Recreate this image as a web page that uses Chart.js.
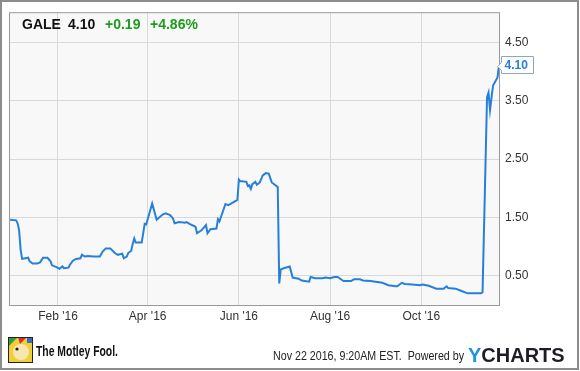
<!DOCTYPE html>
<html>
<head>
<meta charset="utf-8">
<script src="https://cdn.jsdelivr.net/npm/chart.js@4/dist/chart.umd.min.js"></script>
<style>
  html, body { margin: 0; padding: 0; background: #fff; }
  #wrap { width: 580px; height: 371px; }
</style>
</head>
<body>
<div id="wrap"><canvas id="grafico" width="580" height="371"></canvas></div>
<script>
// GALE close prices
const datas = [
  '2015-12-31', '2016-01-04', '2016-01-05', '2016-01-06', '2016-01-07', '2016-01-08', '2016-01-12', '2016-01-13',
  '2016-01-15', '2016-01-18', '2016-01-20', '2016-01-22', '2016-01-25', '2016-01-27', '2016-01-28', '2016-01-31',
  '2016-02-02', '2016-02-04', '2016-02-05', '2016-02-08', '2016-02-09', '2016-02-11', '2016-02-13', '2016-02-16',
  '2016-02-17', '2016-02-19', '2016-02-21', '2016-02-25', '2016-02-29', '2016-03-02', '2016-03-04', '2016-03-07',
  '2016-03-10', '2016-03-12', '2016-03-15', '2016-03-16', '2016-03-18', '2016-03-19', '2016-03-21', '2016-03-22',
  '2016-03-23', '2016-03-24', '2016-03-28', '2016-03-30', '2016-03-31', '2016-04-04', '2016-04-07', '2016-04-11',
  '2016-04-13', '2016-04-16', '2016-04-18', '2016-04-19', '2016-04-22', '2016-04-26', '2016-04-27', '2016-04-29',
  '2016-05-03', '2016-05-04', '2016-05-07', '2016-05-10', '2016-05-11', '2016-05-13', '2016-05-17', '2016-05-18',
  '2016-05-19', '2016-05-23', '2016-05-25', '2016-05-31', '2016-06-01', '2016-06-02', '2016-06-03', '2016-06-06',
  '2016-06-07', '2016-06-08', '2016-06-09', '2016-06-10', '2016-06-12', '2016-06-13', '2016-06-15', '2016-06-17',
  '2016-06-19', '2016-06-21', '2016-06-23', '2016-06-25', '2016-06-27', '2016-06-28', '2016-06-29', '2016-07-01',
  '2016-07-05', '2016-07-07', '2016-07-11', '2016-07-13', '2016-07-18', '2016-07-19', '2016-07-22', '2016-07-27',
  '2016-07-29', '2016-08-01', '2016-08-04', '2016-08-06', '2016-08-10', '2016-08-15', '2016-08-17', '2016-08-21',
  '2016-08-23', '2016-08-28', '2016-09-05', '2016-09-09', '2016-09-14', '2016-09-15', '2016-09-18', '2016-09-20',
  '2016-09-25', '2016-09-30', '2016-10-02', '2016-10-06', '2016-10-11', '2016-10-16', '2016-10-18', '2016-10-19',
  '2016-10-24', '2016-10-28', '2016-11-01', '2016-11-04', '2016-11-08', '2016-11-10', '2016-11-11', '2016-11-14',
  '2016-11-15', '2016-11-16', '2016-11-18', '2016-11-21', '2016-11-22'
];
const precos = [
  1.46, 1.45, 1.40, 1.28, 0.95, 0.79, 0.81, 0.75,
  0.71, 0.71, 0.73, 0.81, 0.81, 0.75, 0.68, 0.65,
  0.62, 0.66, 0.63, 0.64, 0.69, 0.76, 0.79, 0.80,
  0.86, 0.83, 0.84, 0.83, 0.83, 0.92, 0.97, 0.97,
  0.89, 0.86, 0.88, 0.80, 0.83, 0.89, 0.93, 1.05,
  1.14, 1.07, 1.07, 1.39, 1.38, 1.74, 1.46, 1.55,
  1.57, 1.54, 1.48, 1.40, 1.42, 1.41, 1.42, 1.39,
  1.34, 1.23, 1.28, 1.37, 1.23, 1.30, 1.31, 1.47,
  1.43, 1.73, 1.71, 1.80, 2.15, 2.12, 2.12, 2.11,
  2.04, 2.05, 1.99, 2.07, 2.11, 2.06, 2.10, 2.22,
  2.26, 2.25, 2.10, 2.06, 2.02, 0.37, 0.61, 0.63,
  0.66, 0.47, 0.45, 0.42, 0.40, 0.48, 0.46, 0.46,
  0.47, 0.46, 0.48, 0.48, 0.41, 0.41, 0.44, 0.44,
  0.42, 0.41, 0.38, 0.34, 0.32, 0.32, 0.38, 0.36,
  0.35, 0.34, 0.35, 0.33, 0.28, 0.28, 0.32, 0.29,
  0.28, 0.24, 0.20, 0.20, 0.20, 0.20, 0.22, 3.56,
  3.64, 3.34, 3.76, 3.90, 4.10
];

const mesesDatas = ['2016-02-01', '2016-04-01', '2016-06-01', '2016-08-01', '2016-10-01'];
const mesesLabels = ["Feb '16", "Apr '16", "Jun '16", "Aug '16", "Oct '16"];
const ticksY = [0.5, 1.5, 2.5, 3.5, 4.5];

const cabecalho = [
  { texto: 'GALE', cor: '#111', x: 22 },
  { texto: '4.10', cor: '#111', x: 68 },
  { texto: '+0.19', cor: '#1f9a1f', x: 105 },
  { texto: '+4.86%', cor: '#1f9a1f', x: 150 }
];

const fonte = '"Liberation Sans", Arial, sans-serif';
const azul = '#2680d9';

function dia(d) {
  return (Date.parse(d) - Date.parse('2016-01-01')) / 86400000;
}

const pontos = datas.map((d, i) => ({ x: dia(d), y: precos[i] }));

const moldura = {
  id: 'moldura',
  beforeDraw(chart) {
    const { ctx, chartArea: a } = chart;
    ctx.save();
    ctx.fillStyle = '#fff';
    ctx.fillRect(0, 0, chart.width, chart.height);
    ctx.fillStyle = '#f8f8f8';
    ctx.fillRect(a.left, a.top, a.right - a.left, a.bottom - a.top);
    ctx.restore();
  },
  afterDraw(chart) {
    const { ctx, chartArea: a } = chart;
    ctx.save();

    // caixa do grafico
    ctx.strokeStyle = '#999';
    ctx.lineWidth = 1;
    ctx.strokeRect(a.left - 0.5, a.top - 0.5, a.right - a.left + 1, a.bottom - a.top + 1);

    // borda externa
    ctx.strokeStyle = '#8c8c8c';
    ctx.lineWidth = 2;
    ctx.strokeRect(1, 1, 577, 368);

    // cabecalho
    ctx.font = 'bold 14px ' + fonte;
    ctx.textBaseline = 'alphabetic';
    cabecalho.forEach(c => {
      ctx.fillStyle = c.cor;
      ctx.fillText(c.texto, c.x, 29);
    });

    // etiqueta do ultimo valor
    const meta = chart.getDatasetMeta(0);
    const ult = meta.data[meta.data.length - 1];
    const px = Math.round(ult.x), py = Math.round(ult.y);
    const bx = px + 2.5, by = py - 9.5, bw = 32, bh = 17;
    ctx.beginPath();
    ctx.moveTo(bx, by);
    ctx.lineTo(bx + bw, by);
    ctx.lineTo(bx + bw, by + bh);
    ctx.lineTo(bx, by + bh);
    ctx.lineTo(bx, py + 4.5);
    ctx.lineTo(px - 1.5, py + 0.5);
    ctx.lineTo(bx, py - 3.5);
    ctx.closePath();
    ctx.fillStyle = '#fff';
    ctx.fill();
    ctx.strokeStyle = '#8fa6bf';
    ctx.lineWidth = 1;
    ctx.stroke();
    ctx.fillStyle = azul;
    ctx.font = 'bold 12px ' + fonte;
    ctx.textBaseline = 'middle';
    ctx.textAlign = 'left';
    ctx.fillText(precos[precos.length - 1].toFixed(2), bx + 3, by + bh / 2 + 0.5);

    // logo Motley Fool (simplificado)
    ctx.fillStyle = '#f2cf3a';
    ctx.fillRect(8, 337, 25, 26);
    ctx.fillStyle = '#3a9a3a';
    ctx.beginPath(); ctx.moveTo(8, 337); ctx.lineTo(18, 337); ctx.lineTo(8, 347); ctx.fill();
    ctx.fillStyle = '#d8312a';
    ctx.beginPath(); ctx.moveTo(18, 337); ctx.lineTo(27, 337); ctx.lineTo(20, 344); ctx.fill();
    ctx.fillStyle = '#2f6fc0';
    ctx.fillRect(27, 337, 6, 6);
    ctx.fillStyle = '#f6e7b0';
    ctx.beginPath(); ctx.ellipse(21, 352, 8, 8, 0, 0, Math.PI * 2); ctx.fill();
    ctx.fillStyle = '#222';
    ctx.beginPath(); ctx.arc(17, 349, 1.6, 0, Math.PI * 2); ctx.fill();
    ctx.strokeStyle = '#222';
    ctx.lineWidth = 1;
    ctx.strokeRect(8.5, 337.5, 24, 25);

    ctx.fillStyle = '#111';
    ctx.font = 'bold 14px ' + fonte;
    ctx.textBaseline = 'middle';
    ctx.fillText('The Motley Fool.', 36, 352, 82);

    // rodape
    ctx.fillStyle = '#222';
    ctx.font = '12px ' + fonte;
    ctx.fillText('Nov 22 2016, 9:20AM EST.  Powered by', 273, 357, 191);

    ctx.font = 'bold 20px ' + fonte;
    ctx.textBaseline = 'alphabetic';
    ctx.fillStyle = '#1f93e0';
    ctx.fillText('Y', 468, 362);
    const wy = ctx.measureText('Y').width;
    ctx.fillStyle = '#1d1d26';
    ctx.fillText('CHARTS', 468 + wy, 362, 100 - wy);

    ctx.restore();
  }
};

new Chart(document.getElementById('grafico').getContext('2d'), {
  type: 'line',
  data: {
    datasets: [{
      label: 'GALE',
      data: pontos,
      borderColor: azul,
      borderWidth: 2,
      pointRadius: 0,
      tension: 0,
      fill: false
    }]
  },
  options: {
    responsive: false,
    animation: false,
    events: [],
    layout: { padding: { left: 10, top: 10, right: 0, bottom: 0 } },
    plugins: { legend: { display: false }, tooltip: { enabled: false } },
    scales: {
      x: {
        type: 'linear',
        min: -1.1,
        max: 326,
        afterBuildTicks: s => { s.ticks = mesesDatas.map(d => ({ value: dia(d) })); },
        afterFit: s => { s.height = 66; },
        ticks: {
          callback: (v, i) => mesesLabels[i],
          color: '#333',
          font: { family: fonte, size: 12 },
          padding: 4,
          maxRotation: 0,
          autoSkip: false
        },
        grid: { color: '#d9d9d9', drawTicks: false },
        border: { display: false }
      },
      y: {
        position: 'right',
        min: 0,
        max: 5,
        afterBuildTicks: s => { s.ticks = ticksY.map(v => ({ value: v })); },
        afterFit: s => { s.width = 81; },
        ticks: {
          callback: v => v.toFixed(2),
          color: '#333',
          font: { family: fonte, size: 12 },
          padding: 6
        },
        grid: { color: '#d9d9d9', drawTicks: false },
        border: { display: false }
      }
    }
  },
  plugins: [moldura]
});
</script>
</body>
</html>
